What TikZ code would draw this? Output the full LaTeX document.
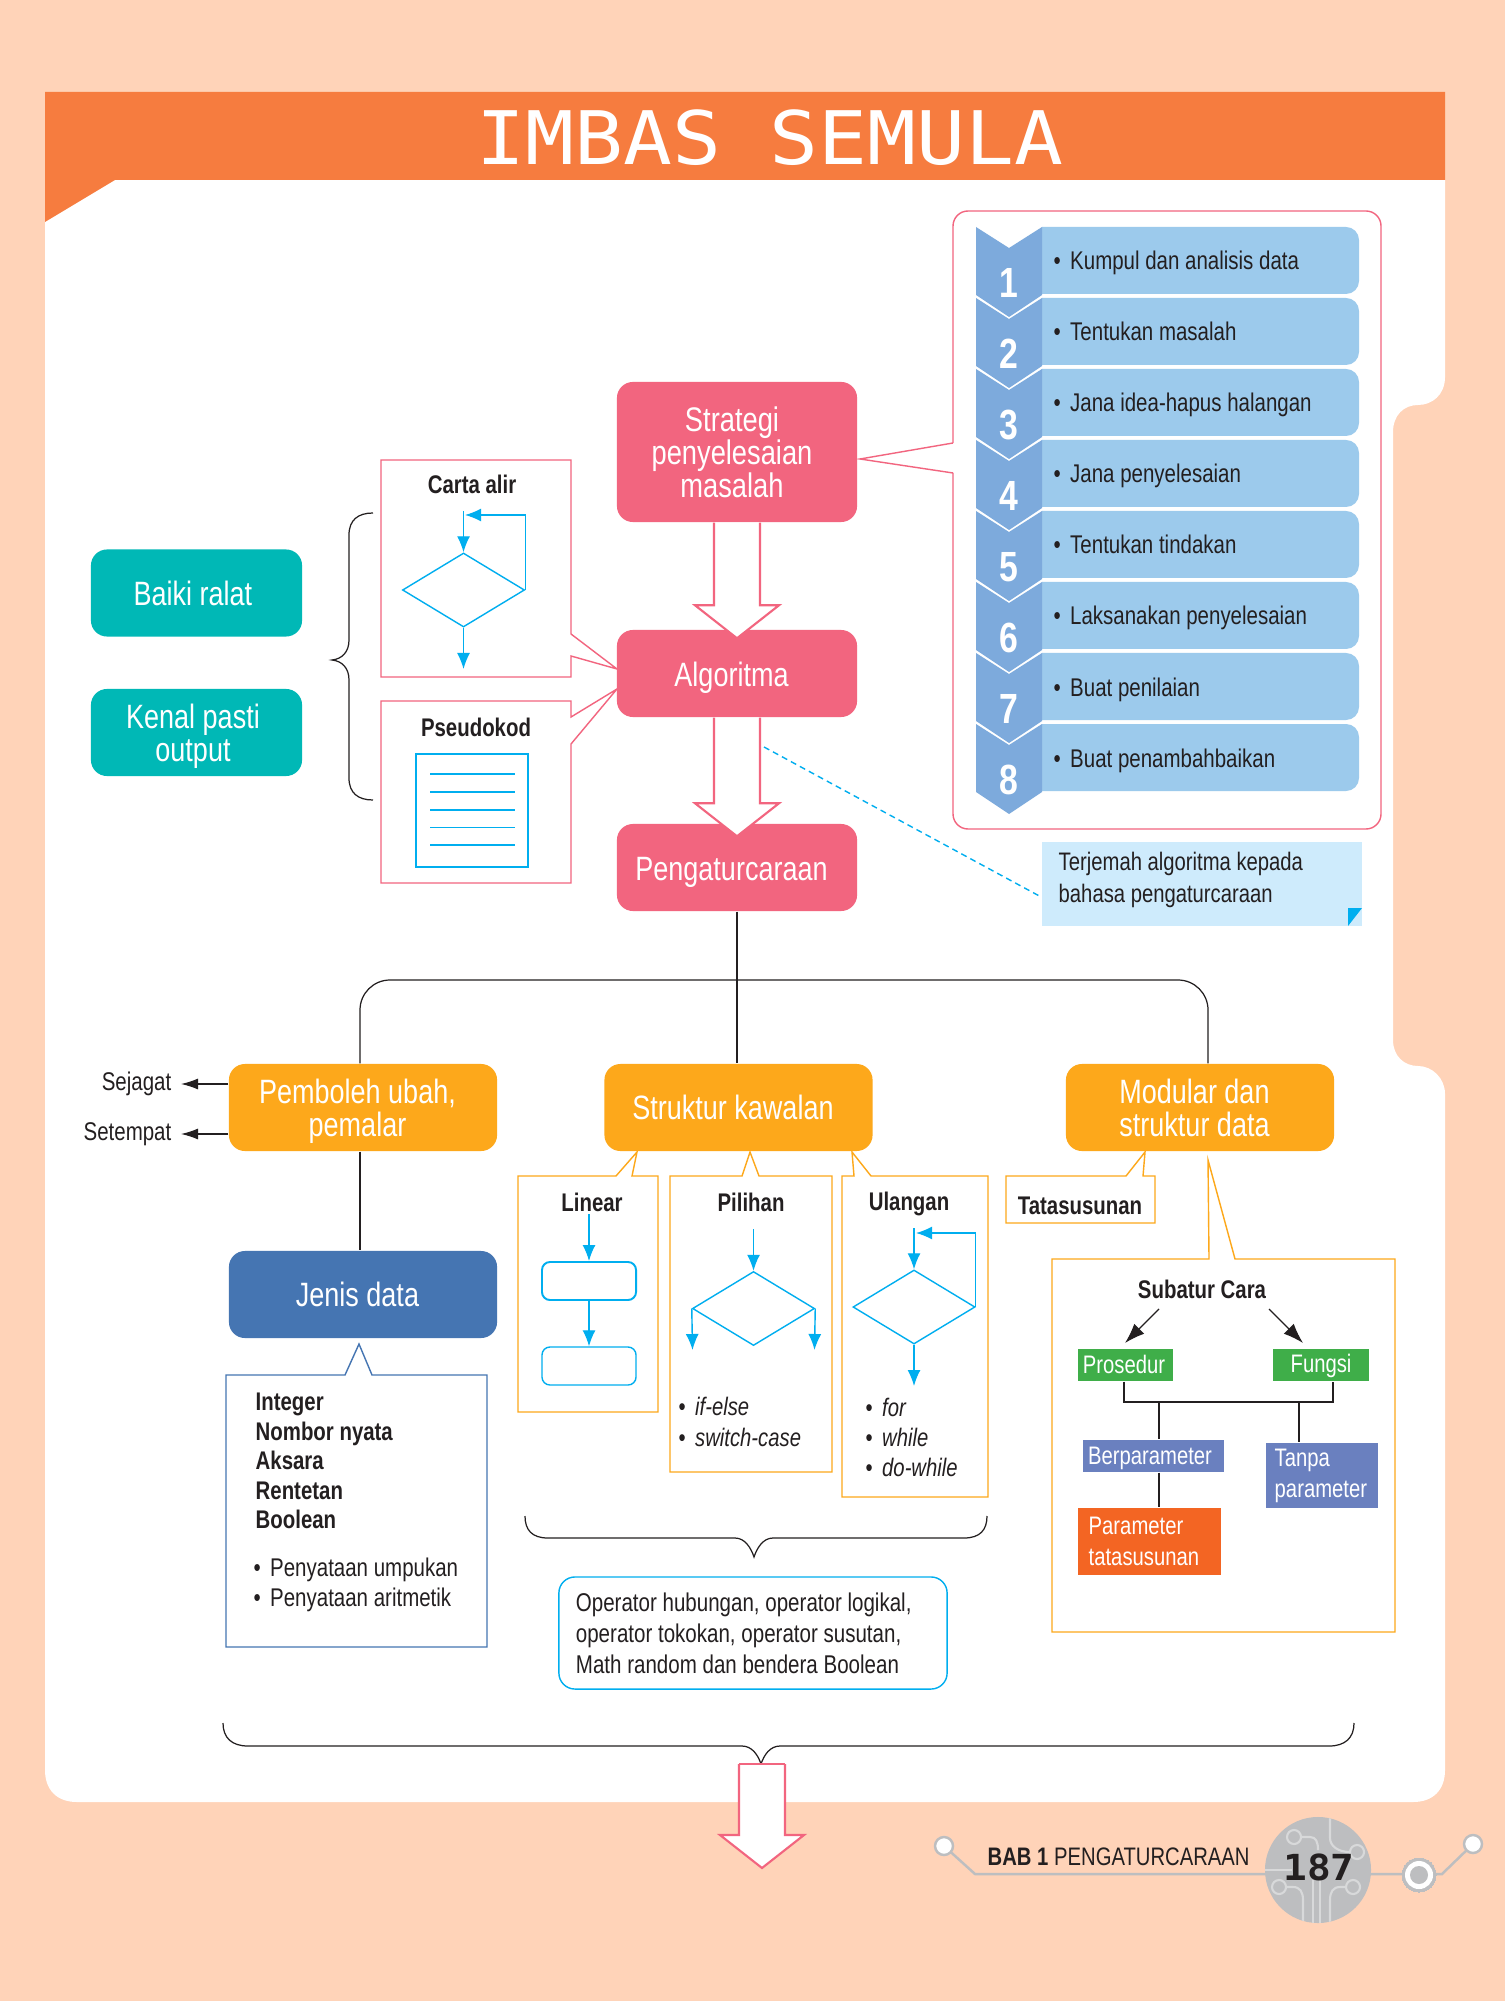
\documentclass[tikz,border=0pt]{standalone}
\usepackage{fontspec}
\setmainfont{Liberation Sans}[FakeStretch=0.8]
\newfontfamily\titlefont{DejaVu Sans Mono}[FakeStretch=1.1]
\usetikzlibrary{calc,arrows.meta,shapes.geometric}
\definecolor{peach}{HTML}{FFD3B8}
\definecolor{bandorange}{HTML}{F67C3F}
\definecolor{stageblue}{HTML}{9CCAEC}
\definecolor{chevblue}{HTML}{7DAADC}
\definecolor{rosepink}{HTML}{F2657F}
\definecolor{tealbox}{HTML}{00B8B6}
\definecolor{amber}{HTML}{FDA81B}
\definecolor{steelblue}{HTML}{4575B2}
\definecolor{flowcyan}{HTML}{00AEEF}
\definecolor{notecyan}{HTML}{CEEBFC}
\definecolor{leafgreen}{HTML}{3FAE49}
\definecolor{slateblue}{HTML}{6A80BF}
\definecolor{redorange}{HTML}{F36523}
\definecolor{padgray}{HTML}{BDBEC0}
\definecolor{tracegray}{HTML}{D8D9DA}
\definecolor{inkblack}{HTML}{231F20}
\newcommand\bul{\makebox[1.65mm][l]{\upshape\textbullet}}
\newcommand\shl[1][1.1mm]{\hspace*{#1}}
\newcommand\bigarrow[2]{\filldraw[bigarrowline] ($(#1)+(-23,0)$) -- ($(#2)+(-23,-24)$) -- ($(#2)+(-42,-24)$) -- ($(#2)+(0,9)$)
    -- ($(#2)+(42,-24)$) -- ($(#2)+(23,-24)$) -- ($(#1)+(23,0)$);}
\tikzset{
    bigbox/.style={rounded corners=.16cm, text=white, inner sep=0pt, align=center, minimum height=.87cm, font=\fontsize{9.6}{9.4}\selectfont},
    pinkbox/.style={bigbox, fill=rosepink, minimum width=2.40cm},
    oneline/.style={text height=.25cm, text depth=0pt},
    tealnode/.style={bigbox, fill=tealbox, minimum width=2.11cm},
    ambernode/.style={bigbox, fill=amber, minimum width=2.68cm},
    leafbox/.style={text=white, inner sep=0pt, align=left, font=\fontsize{7.2}{8.8}\selectfont},
    smalltext/.style={inner sep=0pt, align=left, text=inkblack, font=\fontsize{7.28}{8.5}\selectfont},
    headtext/.style={inner sep=0pt, text=inkblack, font=\fontsize{7.25}{8.4}\selectfont\bfseries},
    pinkline/.style={draw=rosepink, line width=.4pt, fill=white},
    amberline/.style={draw=amber, line width=.4pt, fill=white},
    bigarrowline/.style={draw=rosepink, line width=.6pt, fill=white},
    flowline/.style={draw=flowcyan, line width=.4pt},
    flowarrow/.style={flowline, -{Latex[length=1.6mm,width=1.3mm]}},
    flowdiamond/.style={flowline, shape=diamond, aspect=1.66, inner sep=0pt, minimum width=1.22cm, minimum height=.74cm},
    flowrect/.style={flowline, rounded corners=.08cm, inner sep=0pt, minimum width=.94cm, minimum height=.38cm},
    blackline/.style={draw=inkblack, line width=.35pt},
    blackarrow/.style={blackline, -{Latex[length=1.7mm,width=1.1mm]}},
    subarrow/.style={blackline, -{Latex[length=2mm,width=1.4mm]}},
    tracepath/.style={draw=tracegray, line width=.6pt}
}
\begin{document}
\begin{tikzpicture}[x=0.01cm, y=-0.01cm]
    \useasboundingbox (0,0) rectangle (1505,2001);
    % page and panel
    \fill[peach] (0,0) rectangle (1505,2001);
    \fill[white] (45,180) -- (1445,180) -- (1445,377) .. controls (1445,395) and (1432,405) .. (1418,405)
        .. controls (1404,405) and (1393,415) .. (1393,432) -- (1393,1040) .. controls (1393,1056) and (1404,1066) .. (1418,1066)
        .. controls (1432,1066) and (1445,1078) .. (1445,1094) -- (1445,1770) .. controls (1445,1790) and (1433,1802) .. (1413,1802)
        -- (77,1802) .. controls (57,1802) and (45,1790) .. (45,1770) -- cycle;
    \fill[bandorange] (45,92) -- (1445,92) -- (1445,180) -- (115,180) -- (45,222) -- cycle;
    \node[inner sep=0pt, text=white, font=\titlefont\fontsize{21}{24}\selectfont] (title) at (770,138) {IMBAS SEMULA};

    % steps
    \draw[pinkline, rounded corners=.15cm] (953,443) -- (953,211) -- (1381,211) -- (1381,829) -- (953,829) -- (953,473);
    \draw[rosepink, line width=.4pt] (953,443) -- (860,459) -- (953,473);
    \foreach \txt [count=\i from 0] in {Kumpul dan analisis data, Tentukan masalah, Jana idea-hapus halangan, Jana penyelesaian,
                                        Tentukan tindakan, Laksanakan penyelesaian, Buat penilaian, Buat penambahbaikan} {
        \pgfmathsetmacro{\yt}{227+71*\i}
        \pgfmathsetmacro{\yb}{\yt+67}
        \pgfmathtruncatemacro{\num}{\i+1}
        \fill[stageblue] (1042,\yt) -- (1200,\yt) [rounded corners=.13cm] -- (1359,\yt) -- (1359,\yb) [sharp corners] -- (1200,\yb) -- (1042,\yb) -- cycle;
        \fill[chevblue] (976,\yt) -- (1009,\yt+21) -- (1042,\yt) -- (1042,\yt+68) -- (1009,\yt+90) -- (976,\yt+68) -- cycle;
        \node[smalltext, anchor=base west] (step\num) at (1053,\yt+43) {\bul\txt};
        \node[inner sep=0pt, text=white, font=\fontsize{12}{12}\selectfont\bfseries] (stepnum\num) at (1009,\yt+56) {\num};
    }

    % main column
    \node[pinkbox, minimum height=1.40cm] (strategi) at (737,452) {};
    \node[inner sep=0pt, align=center, text=white, font=\fontsize{9.7}{9.4}\selectfont] (strategitext) at (732,452) {Strategi\\penyelesaian\\masalah};
    \node[pinkbox, oneline] (algoritma) at (737,673.5) {Algoritma\shl};
    \node[pinkbox, oneline] (pengatur) at (737,867.5) {Pengaturcaraan\shl};
    \coordinate (pengaturhit) at ($(pengatur.north)+(0,4)$);
    \bigarrow{strategi.south}{algoritma.north}
    \bigarrow{algoritma.south}{pengaturhit}

    % left side
    \node[tealnode] (baiki) at (196.5,593) {Baiki ralat\shl[.7mm]};
    \node[tealnode] (kenal) at (196.5,732.5) {Kenal pasti\shl[.7mm]\\\smash{output\shl[.7mm]}};
    \draw[blackline] (373,513) .. controls (358,513) and (349,520) .. (349,535) -- (349,640) .. controls (349,652) and (342,659) .. (332,660)
        .. controls (342,661) and (349,668) .. (349,680) -- (349,778) .. controls (349,793) and (358,800) .. (373,800);
    \draw[pinkline] (381,460) -- (571,460) -- (571,634) -- (617,669) -- (571,656) -- (571,677) -- (381,677) -- cycle;
    \draw[pinkline] (381,701) -- (571,701) -- (571,717) -- (617,689) -- (571,744) -- (571,883) -- (381,883) -- cycle;
    \node[headtext] (cartalabel) at (472,484) {Carta alir};
    \node[headtext] (pseudolabel) at (476,727) {Pseudokod};
    \node[flowdiamond] (cartadec) at (463.5,590) {};
    \coordinate (cartain) at (463.5,511);
    \coordinate (cartaout) at (463.5,669);
    \coordinate (cartaloop) at (465,515);
    \draw[flowarrow] (cartain) -- (cartadec.north);
    \draw[flowarrow] (cartadec.south) -- (cartaout);
    \draw[flowarrow] (cartadec.east) |- (cartaloop);
    \node[flowline, line width=.55pt, inner sep=0pt, minimum width=1.12cm, minimum height=1.13cm] (pseudodoc) at (472,810.5) {};
    \foreach \y in {774,792,810,827.5,845}
        \draw[flowline] (430,\y) -- (515,\y);

    % note
    \node[fill=notecyan, inner sep=0pt, minimum width=3.20cm, minimum height=.84cm] (notebox) at (1202,884) {};
    \node[smalltext, anchor=west, font=\fontsize{7.2}{9}\selectfont] (notetext) at (1058,880) {Terjemah algoritma kepada\\bahasa pengaturcaraan};
    \fill[flowcyan] (1348,908) -- (1362,908) -- (1348,926) -- cycle;
    \coordinate (notefrom) at (764,747);
    \draw[flowline, dash pattern=on 1.7pt off 1.2pt] (notefrom) -- (notebox.west |- 0,897);

    % second level
    \node[ambernode] (pemboleh) at (363,1107.5) {Pemboleh ubah,\shl\\\smash{pemalar\shl}};
    \node[ambernode] (struktur) at (738.5,1107.5) {Struktur kawalan\shl};
    \node[ambernode] (modular) at (1200,1107.5) {Modular dan\shl\\struktur data\shl};
    \node[bigbox, fill=steelblue, minimum width=2.68cm] (jenis) at (363,1294.5) {Jenis data\shl};
    \coordinate (busleft) at (360,980);
    \coordinate (busright) at (1208,980);
    \draw[blackline] (pengatur.south) -- (pengatur.south |- struktur.north);
    \draw[blackline, rounded corners=.3cm] (busleft |- pemboleh.north) -- (busleft) -- (busright) -- (busright |- modular.north);
    \draw[blackline] (busleft |- pemboleh.south) -- (busleft |- jenis.north);
    \node[smalltext, anchor=east] (sejagat) at (172,1084) {Sejagat};
    \node[smalltext, anchor=east] (setempat) at (172,1134) {Setempat};
    \draw[blackarrow] (pemboleh.west |- sejagat.east) -- ($(sejagat.east)+(9,0)$);
    \draw[blackarrow] (pemboleh.west |- setempat.east) -- ($(setempat.east)+(9,0)$);

    % data types
    \draw[steelblue, line width=.4pt] (226,1375) -- (345,1375) -- (359,1344) -- (372,1375) -- (487,1375) -- (487,1647) -- (226,1647) -- cycle;
    \node[headtext, anchor=west, align=left, font=\fontsize{7.25}{8.4}\selectfont\bfseries] (jenislist) at (255,1461) {Integer\\Nombor nyata\\Aksara\\Rentetan\\Boolean};
    \node[smalltext, anchor=west] (jenisops) at (253,1585) {\bul Penyataan umpukan\\\bul Penyataan aritmetik};

    % control boxes
    \draw[amberline] (518,1176) -- (616,1176) -- (637,1152) -- (632,1176) -- (658,1176) -- (658,1412) -- (518,1412) -- cycle;
    \draw[amberline] (670,1176) -- (742,1176) -- (750,1152) -- (759,1176) -- (832,1176) -- (832,1472) -- (670,1472) -- cycle;
    \draw[amberline] (842,1176) -- (854,1176) -- (852,1152) -- (871,1176) -- (988,1176) -- (988,1497) -- (842,1497) -- cycle;
    \node[headtext] (linearlabel) at (592,1202) {Linear};
    \node[headtext] (pilihanlabel) at (751,1202) {Pilihan};
    \node[headtext] (ulanganlabel) at (909,1204) {Ulangan};

    \node[flowrect, line width=.55pt] (linear1) at (589,1281) {};
    \node[flowrect] (linear2) at (589,1366) {};
    \coordinate (linearin) at (589,1214);
    \draw[flowarrow] (linearin) -- (linear1.north);
    \draw[flowarrow] (linear1.south) -- (linear2.north);

    \node[flowdiamond] (pilihandec) at (753.5,1308.5) {};
    \coordinate (pilihanin) at (753.5,1229);
    \coordinate (pilihanl) at (692.5,1350);
    \coordinate (pilihanr) at (814.5,1350);
    \draw[flowarrow] (pilihanin) -- (pilihandec.north);
    \draw[flowarrow] (pilihandec.west) -- (pilihanl);
    \draw[flowarrow] (pilihandec.east) -- (pilihanr);

    \node[flowdiamond] (ulangandec) at (914,1307) {};
    \coordinate (ulanganin) at (914,1228);
    \coordinate (ulanganout) at (914,1386);
    \coordinate (ulanganloop) at (916,1233);
    \draw[flowarrow] (ulanganin) -- (ulangandec.north);
    \draw[flowarrow] (ulangandec.south) -- (ulanganout);
    \draw[flowarrow] (ulangandec.east) |- (ulanganloop);

    \node[smalltext, anchor=west, font=\fontsize{7.2}{8.6}\selectfont\itshape] (pilihanlist) at (678,1422) {\bul if-else\\\bul switch-case};
    \node[smalltext, anchor=west, font=\fontsize{7.2}{8.6}\selectfont\itshape] (ulanganlist) at (865,1437.5) {\bul for\\\bul while\\\bul do-while};

    \draw[blackline] (525,1516) .. controls (525,1530) and (532,1538) .. (548,1538) -- (735,1538) .. controls (745,1538) and (751,1548) .. (754,1557)
        .. controls (757,1548) and (763,1538) .. (773,1538) -- (964,1538) .. controls (980,1538) and (987,1530) .. (987,1516);
    \node[flowline, rounded corners=.16cm, inner xsep=.17cm, inner ysep=0pt, text width=3.54cm, minimum height=1.12cm, align=flush left, text=inkblack,
          font=\fontsize{7.3}{8.8}\selectfont] (operator) at (753,1633) {Operator hubungan, operator logikal,\\operator tokokan, operator susutan,\\Math random dan bendera Boolean};

    % modules
    \draw[amberline] (1006,1176) -- (1126,1176) -- (1145,1152) -- (1143,1176) -- (1155,1176) -- (1155,1223) -- (1006,1223) -- cycle;
    \node[headtext] (tatalabel) at (1080,1206) {Tatasusunan};
    \draw[amberline] (1052,1259) -- (1209,1259) -- (1208,1160) -- (1235,1259) -- (1395,1259) -- (1395,1632) -- (1052,1632) -- cycle;
    \node[headtext] (subatur) at (1202,1289) {Subatur Cara};
    \node[fill=leafgreen, inner sep=0pt, minimum width=.95cm, minimum height=.32cm] (prosedur) at (1125.5,1365) {};
    \node[leafbox] (prosedurtext) at (1124,1364) {Prosedur};
    \node[fill=leafgreen, leafbox, minimum width=.96cm, minimum height=.32cm] (fungsi) at (1321,1365) {};
    \node[leafbox] (fungsitext) at (1321,1366) {Fungsi};
    \node[fill=slateblue, inner sep=0pt, minimum width=1.41cm, minimum height=.32cm] (berparam) at (1153.5,1456) {};
    \node[leafbox] (berparamtext) at (1150,1458) {Berparameter};
    \node[fill=slateblue, inner sep=0pt, minimum width=1.12cm, minimum height=.65cm] (tanpa) at (1322,1475.5) {};
    \node[leafbox] (tanpatext) at (1274,1476) [anchor=west] {Tanpa\\parameter};
    \node[fill=redorange, inner sep=0pt, minimum width=1.43cm, minimum height=.67cm] (paramtata) at (1149.5,1541.5) {};
    \node[leafbox] (paramtatatext) at (1088,1541) [anchor=west] {Parameter\\tatasusunan};
    \coordinate (subleft) at (1159,1309);
    \coordinate (subright) at (1269,1309);
    \coordinate (prosedurhit) at (1125,1343);
    \coordinate (fungsihit) at (1303,1343);
    \draw[subarrow] (subleft) -- (prosedurhit);
    \draw[subarrow] (subright) -- (fungsihit);
    \coordinate (joinbar) at (1124,1402);
    \coordinate (joinright) at (1333,1402);
    \coordinate (berjoin) at (1159,1402);
    \coordinate (tanpajoin) at (1299,1402);
    \draw[blackline, line width=.4pt] (joinbar |- prosedur.south) -- (joinbar) -- (joinright) -- (joinright |- fungsi.south);
    \draw[blackline, line width=.4pt] (berjoin) -- (berjoin |- berparam.north);
    \draw[blackline, line width=.4pt] (berjoin |- berparam.south) -- (berjoin |- paramtata.north);
    \draw[blackline, line width=.4pt] (tanpajoin) -- (tanpajoin |- tanpa.north);

    % closing brace and arrow
    \draw[blackline] (223,1723) .. controls (223,1738) and (232,1746) .. (248,1746) -- (742,1746) .. controls (752,1746) and (758,1755) .. (761,1764)
        .. controls (764,1755) and (770,1746) .. (780,1746) -- (1329,1746) .. controls (1345,1746) and (1354,1738) .. (1354,1723);
    \coordinate (bracetip) at (762,1764);
    \coordinate (pageend) at (762,1859);
    \bigarrow{bracetip}{pageend}
    \draw[rosepink, line width=.6pt] ($(bracetip)+(-23,0)$) -- ($(bracetip)+(23,0)$);

    % footer
    \draw[padgray, line width=.7pt] (944,1846) -- (975,1874) -- (1419,1874);
    \draw[padgray, line width=.7pt] (1419,1874) -- (1442,1874) -- (1473,1844);
    \filldraw[draw=padgray, fill=white, line width=.7pt] (944,1846) circle (.09cm);
    \filldraw[draw=padgray, fill=white, line width=.7pt] (1473,1844) circle (.09cm);
    \fill[padgray] (1318,1870) circle (.53cm);
    \begin{scope}
        \clip (1318,1870) circle (.53cm);
        \draw[tracepath] (1265,1870) -- (1292,1870);
        \draw[tracepath] (1294,1837) circle (.07cm);
        \draw[tracepath] (1301,1837) -- (1310,1837) .. controls (1316,1837) and (1318,1842) .. (1318,1850);
        \draw[tracepath] (1330,1815) -- (1330,1838) .. controls (1330,1846) and (1338,1852) .. (1350,1852);
        \draw[tracepath] (1357,1852) circle (.07cm);
        \draw[tracepath] (1279,1887) circle (.07cm);
        \draw[tracepath] (1286,1887) -- (1293,1887) .. controls (1300,1887) and (1303,1892) .. (1303,1900) -- (1303,1925);
        \draw[tracepath] (1313,1880) -- (1313,1925);
        \draw[tracepath] (1320,1880) -- (1320,1925);
        \draw[tracepath] (1353,1887) circle (.07cm);
        \draw[tracepath] (1346,1887) -- (1340,1887) .. controls (1333,1887) and (1330,1892) .. (1330,1900) -- (1330,1925);
    \end{scope}
    \filldraw[draw=padgray, fill=padgray, line width=0pt] (1419,1875) circle (.17cm);
    \fill[white] (1419,1875) circle (.14cm);
    \fill[padgray] (1419,1875) circle (.09cm);
    \node[inner sep=0pt, anchor=west, text=inkblack, font=\fontsize{7.2}{8}\selectfont] (chapter) at (987,1857) {\textbf{BAB 1} PENGATURCARAAN};
    \node[inner sep=0pt, text=inkblack, font=\titlefont\fontsize{10.2}{12}\selectfont\bfseries] (pagenum) at (1319,1867) {187};
\end{tikzpicture}
\end{document}
